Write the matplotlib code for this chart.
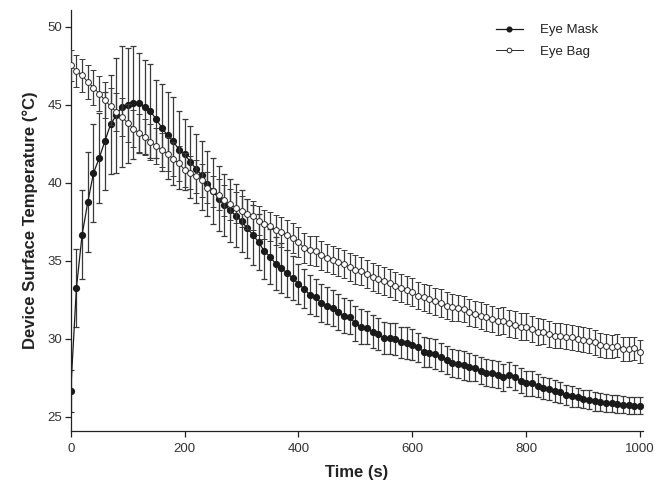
import matplotlib
matplotlib.use("Agg")
import matplotlib.pyplot as plt

plt.rcParams["font.family"] = ["Liberation Sans", "DejaVu Sans"]

# time points (s), one reading every 10 s
time_s = list(range(0, 1001, 10))

eye_mask = [
    26.64, 33.25, 36.67, 38.77, 40.63, 41.59, 42.68, 43.75, 44.33, 44.89,
    44.97, 45.15, 45.10, 44.85, 44.60, 44.08, 43.54, 43.05, 42.68, 42.13,
    41.83, 41.36, 40.91, 40.48, 39.95, 39.47, 38.99, 38.60, 38.24, 37.91,
    37.55, 37.10, 36.67, 36.20, 35.62, 35.28, 34.81, 34.53, 34.21, 33.89,
    33.53, 33.21, 32.82, 32.67, 32.29, 32.14, 31.99, 31.71, 31.50, 31.39,
    31.00, 30.79, 30.71, 30.47, 30.32, 30.06, 30.04, 30.00, 29.78, 29.74,
    29.62, 29.46, 29.18, 29.12, 29.04, 28.82, 28.67, 28.43, 28.39, 28.30,
    28.18, 28.14, 27.97, 27.84, 27.79, 27.71, 27.54, 27.71, 27.54, 27.32,
    27.15, 27.15, 27.00, 26.85, 26.79, 26.68, 26.57, 26.42, 26.32, 26.25,
    26.15, 26.10, 26.00, 25.93, 25.89, 25.87, 25.83, 25.78, 25.76, 25.72, 25.72,
]
eye_mask_sd = [
    1.35, 2.5, 2.85, 3.2, 3.15, 2.9, 3.15, 3.15, 3.7, 3.9,
    3.7, 3.6, 3.2, 3.0, 3.0, 2.5, 2.8, 2.8, 2.8, 2.5,
    2.3, 2.3, 2.2, 2.2, 2.1, 2.1, 2.1, 2.0, 2.0, 2.0,
    2.0, 1.9, 1.9, 1.8, 1.8, 1.75, 1.7, 1.6, 1.5, 1.4,
    1.3, 1.25, 1.25, 1.2, 1.2, 1.2, 1.15, 1.15, 1.1, 1.1,
    1.1, 1.1, 1.05, 1.05, 1.05, 1.0, 1.0, 1.0, 1.0, 1.0,
    1.0, 0.95, 0.95, 0.95, 0.95, 0.9, 0.9, 0.9, 0.9, 0.9,
    0.9, 0.85, 0.85, 0.85, 0.85, 0.85, 0.85, 0.8, 0.8, 0.8,
    0.8, 0.78, 0.75, 0.72, 0.7, 0.7, 0.68, 0.65, 0.65, 0.62,
    0.6, 0.6, 0.6, 0.58, 0.58, 0.55, 0.55, 0.55, 0.55, 0.55, 0.55,
]

eye_bag = [
    47.54, 47.18, 46.90, 46.47, 46.11, 45.73, 45.30, 44.91, 44.55, 44.22,
    43.85, 43.48, 43.20, 42.95, 42.65, 42.38, 42.10, 41.85, 41.55, 41.25,
    40.85, 40.65, 40.42, 40.16, 39.69, 39.47, 39.24, 38.88, 38.62, 38.41,
    38.17, 38.02, 37.91, 37.59, 37.34, 37.21, 36.99, 36.84, 36.67, 36.48,
    36.20, 35.84, 35.67, 35.62, 35.35, 35.20, 35.07, 34.92, 34.81, 34.60,
    34.45, 34.38, 34.17, 34.00, 33.85, 33.70, 33.57, 33.42, 33.27, 33.14,
    32.99, 32.78, 32.67, 32.57, 32.41, 32.29, 32.14, 32.03, 31.99, 31.93,
    31.71, 31.60, 31.50, 31.39, 31.28, 31.13, 31.18, 31.00, 30.92, 30.79,
    30.79, 30.64, 30.47, 30.47, 30.32, 30.21, 30.21, 30.15, 30.10, 30.00,
    29.96, 29.89, 29.78, 29.63, 29.53, 29.50, 29.57, 29.36, 29.36, 29.40, 29.18,
]
eye_bag_sd = [
    1.0, 1.0, 1.05, 1.1, 1.1, 1.15, 1.15, 1.2, 1.2, 1.2,
    1.2, 1.2, 1.2, 1.15, 1.15, 1.15, 1.1, 1.1, 1.1, 1.1,
    1.1, 1.05, 1.05, 1.05, 1.0, 1.0, 1.0, 1.0, 1.0, 1.0,
    1.0, 0.95, 0.95, 0.95, 0.95, 0.95, 0.95, 0.95, 0.95, 0.95,
    0.95, 0.95, 0.95, 0.95, 0.95, 0.9, 0.9, 0.9, 0.9, 0.9,
    0.9, 0.9, 0.9, 0.9, 0.9, 0.9, 0.9, 0.9, 0.9, 0.9,
    0.9, 0.88, 0.88, 0.88, 0.88, 0.88, 0.88, 0.88, 0.85, 0.85,
    0.85, 0.85, 0.85, 0.85, 0.85, 0.85, 0.85, 0.85, 0.85, 0.85,
    0.85, 0.85, 0.85, 0.82, 0.82, 0.82, 0.8, 0.8, 0.8, 0.8,
    0.8, 0.78, 0.78, 0.78, 0.78, 0.75, 0.75, 0.75, 0.75, 0.75, 0.75,
]

x_ticks = [0, 200, 400, 600, 800, 1000]
y_ticks = [25, 30, 35, 40, 45, 50]

fig = plt.figure(figsize=(6.67, 4.87), dpi=100)
ax = fig.add_axes([0.106, 0.115, 0.858, 0.864])

mask = ax.errorbar(time_s, eye_mask, yerr=eye_mask_sd, color="#1a1a1a", ecolor="#3a3a3a",
                   elinewidth=0.9, capsize=2.5, capthick=0.9, linewidth=0.9,
                   marker="o", markersize=4.2, markerfacecolor="#1a1a1a",
                   markeredgecolor="#1a1a1a", zorder=2)
bag = ax.errorbar(time_s, eye_bag, yerr=eye_bag_sd, color="#2a2a2a", ecolor="#3a3a3a",
                  elinewidth=0.9, capsize=2.5, capthick=0.9, linewidth=0.7,
                  marker="o", markersize=4.2, markerfacecolor="white",
                  markeredgecolor="#2a2a2a", markeredgewidth=0.7, zorder=3)

ax.set_xlim(0, 1005)
ax.set_ylim(24.1, 51.07)
ax.set_xticks(x_ticks)
ax.set_yticks(y_ticks)

for side in ["top", "right"]:
    ax.spines[side].set_visible(False)
for side in ["left", "bottom"]:
    ax.spines[side].set_linewidth(0.9)
    ax.spines[side].set_color("#222222")

ax.tick_params(direction="out", length=4, width=0.9, colors="#222222",
               labelsize=9.5, labelcolor="#333333")
ax.tick_params(axis="x", pad=5)
ax.tick_params(axis="y", pad=2)

ax.set_xlabel("Time (s)", fontsize=12, fontweight="bold", color="#222222", labelpad=7)
ax.set_ylabel("Device Surface Temperature (\u00b0C)", fontsize=12, fontweight="bold",
              color="#222222", labelpad=7)

# legend shows only the line + marker, no error bars
leg = ax.legend([mask[0], bag[0]], ["Eye Mask", "Eye Bag"], loc="upper right",
                bbox_to_anchor=(0.942, 0.995), frameon=False, fontsize=9.5,
                handlelength=2.0, handletextpad=1.3, labelspacing=0.68, markerscale=0.8)
for txt in leg.get_texts():
    txt.set_color("#222222")

fig.savefig("out.png", dpi=100)
